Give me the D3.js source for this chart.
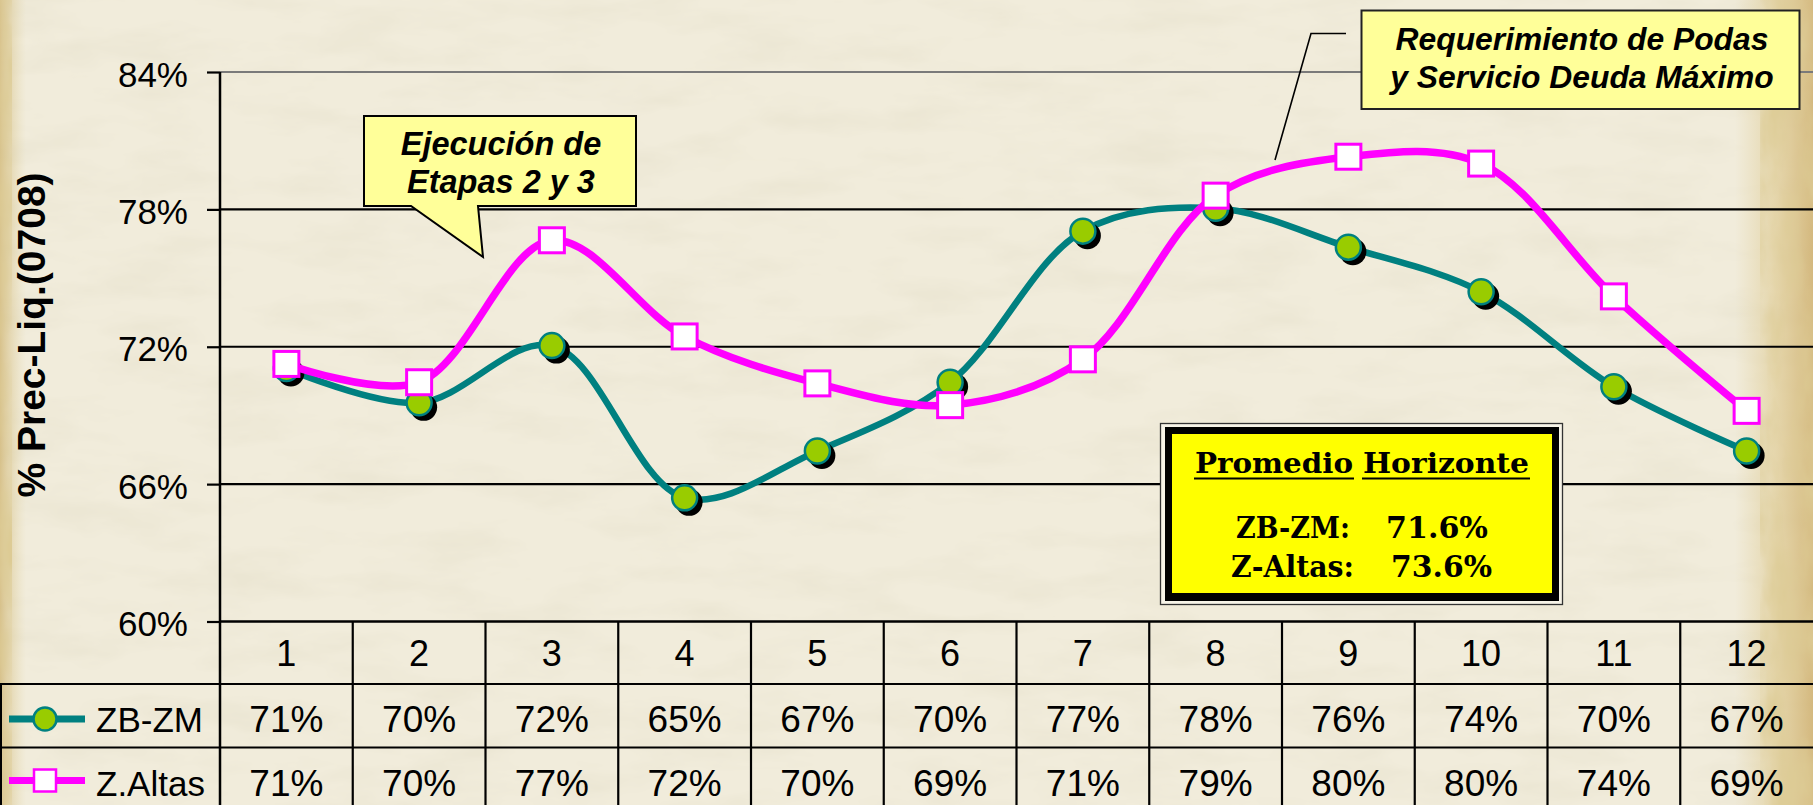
<!DOCTYPE html>
<html>
<head>
<meta charset="utf-8">
<script src="https://cdn.jsdelivr.net/npm/d3@7"></script>
<style>
  body { margin: 0; background: #efead6; }
  svg { display: block; }
</style>
</head>
<body>
<div id="chart"></div>
<script>
// values
const categories = ['1', '2', '3', '4', '5', '6', '7', '8', '9', '10', '11', '12']
const zb_zm_values = [71.05, 69.55, 72.05, 65.4, 67.45, 70.45, 77.05, 78.05, 76.35, 74.4, 70.25, 67.45]
const z_altas_values = [71.25, 70.45, 76.65, 72.45, 70.4, 69.45, 71.45, 78.6, 80.3, 80.0, 74.2, 69.2]
const series_names = ['ZB-ZM', 'Z.Altas']
const y_ticks = [60, 66, 72, 78, 84]
const y_title = '% Prec-Liq.(0708)'
const note_etapas = ['Ejecución de', 'Etapas 2 y 3']
const note_podas = ['Requerimiento de Podas', 'y Servicio Deuda Máximo']
const summary_title = ['Promedio', 'Horizonte']
const summary_labels = ['ZB-ZM:', 'Z-Altas:']
const summary_values = ['71.6%', '73.6%']

const svg_width = 1813,
      svg_height = 805,
      plot_left = 220,
      plot_top = 72,
      plot_bottom = 621.5,
      row_lines = [621.5, 684, 747.5, 811],
      sans = "'Liberation Sans', Arial, sans-serif",
      serif = "'DejaVu Serif', 'Liberation Serif', serif",
      teal = '#008080',
      lime = '#99CC00',
      magenta = '#FF00FF',
      note_fill = '#FFFF99'

function draw_background(svg) {
  const defs = svg.append('defs')

  const paper = defs.append('filter').attr('id', 'paper')
    .attr('x', 0).attr('y', 0).attr('width', '100%').attr('height', '100%')
  paper.append('feTurbulence').attr('type', 'fractalNoise')
    .attr('baseFrequency', '0.01 0.03').attr('numOctaves', 4).attr('seed', 11)
  paper.append('feColorMatrix').attr('type', 'matrix')
    .attr('values', '0 0 0 0 0.70  0 0 0 0 0.66  0 0 0 0 0.50  0.55 0 0 0 -0.24')

  const stain = defs.append('filter').attr('id', 'stain')
    .attr('x', 0).attr('y', 0).attr('width', '100%').attr('height', '100%')
  stain.append('feTurbulence').attr('type', 'fractalNoise')
    .attr('baseFrequency', '0.03 0.012').attr('numOctaves', 4).attr('seed', 3)
  stain.append('feColorMatrix').attr('type', 'matrix')
    .attr('values', '0 0 0 0 0.72  0 0 0 0 0.60  0 0 0 0 0.30  2.0 0 0 0 -0.75')

  const right_grad = defs.append('linearGradient').attr('id', 'right-edge')
  right_grad.append('stop').attr('offset', '0%').attr('stop-color', '#ddc98f').attr('stop-opacity', 0)
  right_grad.append('stop').attr('offset', '50%').attr('stop-color', '#dcc587').attr('stop-opacity', 0.55)
  right_grad.append('stop').attr('offset', '100%').attr('stop-color', '#cdac68').attr('stop-opacity', 0.8)

  const left_grad = defs.append('linearGradient').attr('id', 'left-edge')
  left_grad.append('stop').attr('offset', '0%').attr('stop-color', '#cdb06a').attr('stop-opacity', 0.7)
  left_grad.append('stop').attr('offset', '100%').attr('stop-color', '#e0d09a').attr('stop-opacity', 0)

  svg.append('rect').attr('width', svg_width).attr('height', svg_height).attr('fill', '#f1ecdb')
  svg.append('rect').attr('width', svg_width).attr('height', svg_height).attr('filter', 'url(#paper)')
  svg.append('rect').attr('x', 1735).attr('width', 78).attr('height', svg_height).attr('fill', 'url(#right-edge)')
  svg.append('rect').attr('x', 1760).attr('width', 53).attr('height', svg_height).attr('filter', 'url(#stain)')
  svg.append('rect').attr('x', 0).attr('width', 26).attr('height', svg_height).attr('fill', 'url(#left-edge)')
  svg.append('rect').attr('x', 0).attr('width', 12).attr('height', svg_height).attr('filter', 'url(#stain)')
}

function draw_grid(svg, x, y) {
  const grid = svg.append('g').attr('class', 'grid')
  grid.selectAll('line')
    .data(y_ticks.filter(d => d > 60))
    .join('line')
    .attr('x1', plot_left).attr('x2', svg_width)
    .attr('y1', d => y(d)).attr('y2', d => y(d))
    .style('stroke', d => d === 84 ? '#7a7a7a' : '#000')
    .style('stroke-width', 2.2)

  const axis = svg.append('g')
    .attr('transform', `translate(${plot_left},0)`)
    .call(d3.axisLeft(y).tickValues(y_ticks).tickFormat(d => d + '%').tickSize(13).tickPadding(19))
  axis.select('.domain').remove()
  axis.selectAll('.tick line').style('stroke', '#000').style('stroke-width', 2.2)
  axis.selectAll('.tick text')
    .attr('dy', '0.4em')
    .style('font-family', sans).style('font-size', '35px').style('fill', '#000')

  svg.append('line')
    .attr('x1', plot_left).attr('x2', plot_left)
    .attr('y1', plot_top).attr('y2', svg_height)
    .style('stroke', '#000').style('stroke-width', 2.5)

  svg.append('text')
    .attr('transform', 'translate(45,335) rotate(-90)')
    .attr('text-anchor', 'middle')
    .style('font-family', sans).style('font-weight', 'bold').style('font-size', '39px')
    .text(y_title)
}

function draw_table(svg, x) {
  const table = svg.append('g').attr('class', 'table')

  table.append('line')
    .attr('x1', plot_left).attr('x2', svg_width)
    .attr('y1', row_lines[0]).attr('y2', row_lines[0])
    .style('stroke', '#000').style('stroke-width', 2.5)

  table.selectAll('line.row')
    .data(row_lines.slice(1, 3))
    .join('line').attr('class', 'row')
    .attr('x1', 0).attr('x2', svg_width)
    .attr('y1', d => d).attr('y2', d => d)
    .style('stroke', '#000').style('stroke-width', 2.2)

  table.append('line')
    .attr('x1', 1).attr('x2', 1).attr('y1', row_lines[1]).attr('y2', svg_height)
    .style('stroke', '#000').style('stroke-width', 2)

  table.selectAll('line.col')
    .data(categories.slice(1))
    .join('line').attr('class', 'col')
    .attr('x1', d => x(d)).attr('x2', d => x(d))
    .attr('y1', row_lines[0]).attr('y2', svg_height)
    .style('stroke', '#000').style('stroke-width', 2.2)

  table.selectAll('text.cat')
    .data(categories)
    .join('text').attr('class', 'cat')
    .attr('x', d => x(d) + x.bandwidth() / 2)
    .attr('y', row_lines[0] + 44.5)
    .attr('text-anchor', 'middle')
    .style('font-family', sans).style('font-size', '36px')
    .text(d => d)

  const rows = [zb_zm_values, z_altas_values]
  rows.forEach((values, i) => {
    table.selectAll('text.val' + i)
      .data(values)
      .join('text').attr('class', 'val' + i)
      .attr('x', (d, j) => x(categories[j]) + x.bandwidth() / 2)
      .attr('y', row_lines[i + 1] + 48)
      .attr('text-anchor', 'middle')
      .style('font-family', sans).style('font-size', '37px')
      .text(d => d3.format('.0f')(d) + '%')

    table.append('text')
      .attr('x', 96).attr('y', row_lines[i + 1] + 48)
      .style('font-family', sans).style('font-size', '35px')
      .text(series_names[i])
  })

  // legend keys
  const key_zb = row_lines[1] + 35, key_za = row_lines[2] + 33
  table.append('line').attr('x1', 9).attr('x2', 85).attr('y1', key_zb).attr('y2', key_zb)
    .style('stroke', teal).style('stroke-width', 7)
  table.append('circle').attr('cx', 45).attr('cy', key_zb).attr('r', 11.5)
    .style('fill', lime).style('stroke', teal).style('stroke-width', 2.5)
  table.append('line').attr('x1', 9).attr('x2', 85).attr('y1', key_za).attr('y2', key_za)
    .style('stroke', magenta).style('stroke-width', 7)
  table.append('rect').attr('x', 34).attr('y', key_za - 11).attr('width', 22).attr('height', 22)
    .style('fill', '#fff').style('stroke', magenta).style('stroke-width', 2.5)
}

function draw_series(svg, x, y) {
  const cx = d => x(d.cat) + x.bandwidth() / 2
  const line = d3.line().x(cx).y(d => y(d.v)).curve(d3.curveCatmullRom.alpha(0.5))

  const zb = zb_zm_values.map((v, i) => ({cat: categories[i], v: v}))
  const za = z_altas_values.map((v, i) => ({cat: categories[i], v: v}))

  const g_zb = svg.append('g').attr('class', 'zb-zm')
  g_zb.append('path').datum(zb).attr('d', line)
    .style('fill', 'none').style('stroke', teal).style('stroke-width', 6.5)
    .style('stroke-linejoin', 'round')
  g_zb.selectAll('circle.shadow').data(zb).join('circle').attr('class', 'shadow')
    .attr('cx', d => cx(d) + 4.5).attr('cy', d => y(d.v) + 4.5).attr('r', 13.5)
    .style('fill', '#000')
  g_zb.selectAll('circle.dot').data(zb).join('circle').attr('class', 'dot')
    .attr('cx', cx).attr('cy', d => y(d.v)).attr('r', 12.5)
    .style('fill', lime).style('stroke', teal).style('stroke-width', 2.5)

  const g_za = svg.append('g').attr('class', 'z-altas')
  g_za.append('path').datum(za).attr('d', line)
    .style('fill', 'none').style('stroke', magenta).style('stroke-width', 7.5)
    .style('stroke-linejoin', 'round')
  g_za.selectAll('rect').data(za).join('rect')
    .attr('x', d => cx(d) - 12.5).attr('y', d => y(d.v) - 12.5)
    .attr('width', 25).attr('height', 25)
    .style('fill', '#fff').style('stroke', magenta).style('stroke-width', 3)
}

function draw_notes(svg) {
  // callout with tail
  svg.append('path')
    .attr('d', 'M364,116 H636 V206 H478 L483,257 L411,206 H364 Z')
    .style('fill', note_fill).style('stroke', '#000').style('stroke-width', 2)
  svg.selectAll('text.etapas').data(note_etapas).join('text').attr('class', 'etapas')
    .attr('x', 501).attr('y', (d, i) => 155 + i * 38)
    .attr('text-anchor', 'middle')
    .style('font-family', sans).style('font-weight', 'bold').style('font-style', 'italic')
    .style('font-size', '32.5px')
    .text(d => d)

  svg.append('polyline')
    .attr('points', '1346,33.5 1311,33.5 1275,160')
    .style('fill', 'none').style('stroke', '#000').style('stroke-width', 1.6)
  svg.append('rect')
    .attr('x', 1361.5).attr('y', 10.5).attr('width', 438).attr('height', 98.5)
    .style('fill', note_fill).style('stroke', '#222').style('stroke-width', 2)
  svg.selectAll('text.podas').data(note_podas).join('text').attr('class', 'podas')
    .attr('x', 1582).attr('y', (d, i) => 50 + i * 38)
    .attr('text-anchor', 'middle')
    .style('font-family', sans).style('font-weight', 'bold').style('font-style', 'italic')
    .style('font-size', '31.8px')
    .text(d => d)

  // summary box
  svg.append('rect')
    .attr('x', 1160.5).attr('y', 423.5).attr('width', 402).attr('height', 181)
    .style('fill', '#f7f4e8').style('stroke', '#333').style('stroke-width', 1.3)
  svg.append('rect')
    .attr('x', 1165).attr('y', 427).attr('width', 394).attr('height', 174)
    .style('fill', '#000')
  svg.append('rect')
    .attr('x', 1172).attr('y', 434).attr('width', 380).attr('height', 159)
    .style('fill', '#FFFF00')

  const title_x = [1195, 1363], title_w = [158, 166]
  summary_title.forEach((word, i) => {
    svg.append('text')
      .attr('x', title_x[i]).attr('y', 473)
      .attr('textLength', title_w[i]).attr('lengthAdjust', 'spacingAndGlyphs')
      .style('font-family', serif).style('font-weight', 'bold').style('font-size', '28px')
      .text(word)
    svg.append('line')
      .attr('x1', title_x[i] - 1).attr('x2', title_x[i] + title_w[i] + 1)
      .attr('y1', 478.5).attr('y2', 478.5)
      .style('stroke', '#000').style('stroke-width', 2.2)
  })

  const label_x = [1236, 1231], label_w = [114, 123]
  const value_x = [1386, 1391], value_w = [102, 101]
  const base_y = [537.5, 576.5]
  summary_labels.forEach((label, i) => {
    svg.append('text')
      .attr('x', label_x[i]).attr('y', base_y[i])
      .attr('textLength', label_w[i]).attr('lengthAdjust', 'spacingAndGlyphs')
      .style('font-family', serif).style('font-weight', 'bold').style('font-size', '29px')
      .text(label)
    svg.append('text')
      .attr('x', value_x[i]).attr('y', base_y[i])
      .attr('textLength', value_w[i]).attr('lengthAdjust', 'spacingAndGlyphs')
      .style('font-family', serif).style('font-weight', 'bold').style('font-size', '29px')
      .text(summary_values[i])
  })
}

function main() {
  const svg = d3.select('#chart')
    .append('svg')
    .attr('width', svg_width)
    .attr('height', svg_height)

  const x = d3.scaleBand().domain(categories).range([plot_left, svg_width])
  const y = d3.scaleLinear().domain([60, 84]).range([plot_bottom, plot_top])

  draw_background(svg)
  draw_grid(svg, x, y)
  draw_table(svg, x)
  draw_notes(svg)
  draw_series(svg, x, y)
}

main()
</script>
</body>
</html>
